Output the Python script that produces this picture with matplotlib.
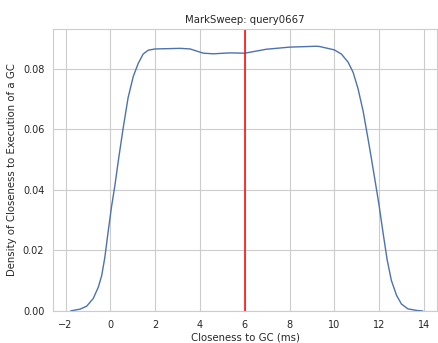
import matplotlib
matplotlib.use('Agg')
import matplotlib.pyplot as plt
import seaborn as sns

sns.set_style('whitegrid')

# density curve of closeness to GC, sampled along x
closeness_ms = [-1.78, -1.73, -1.36, -1.06, -0.77, -0.54, -0.39, -0.25, -0.10, 0.05,
                0.20, 0.35, 0.57, 0.79, 1.02, 1.24, 1.46, 1.69, 2.0, 2.58,
                3.12, 3.56, 4.15, 4.60, 5.34, 6.0, 6.37, 6.96, 8.0, 9.2,
                9.35, 10.0, 10.32, 10.62, 10.84, 11.06, 11.29, 11.51, 11.66, 11.85,
                12.0, 12.18, 12.36, 12.55, 12.78, 13.0, 13.29, 13.67, 13.95]
density = [0.0, 0.0001, 0.0006, 0.0016, 0.0041, 0.0079, 0.0117, 0.0177, 0.0263, 0.0345,
           0.0415, 0.0495, 0.0605, 0.0705, 0.0775, 0.0818, 0.0849, 0.0862, 0.0866, 0.0867,
           0.0868, 0.0866, 0.0852, 0.0850, 0.0853, 0.0852, 0.0857, 0.0865, 0.0872, 0.0875,
           0.0874, 0.0863, 0.0849, 0.0822, 0.0789, 0.0735, 0.0660, 0.0568, 0.0503, 0.0418,
           0.0350, 0.0258, 0.0170, 0.0101, 0.0052, 0.0023, 0.0007, 0.0002, 0.0]
gc_time = 6.0

fig = plt.figure(figsize=(4.39, 3.43), dpi=100)
ax = fig.add_axes([0.1215, 0.0933, 0.8735, 0.8222])

ax.plot(closeness_ms, density, color='#4c72b0', lw=1.0, solid_joinstyle='round')
ax.axvline(gc_time, color='red', lw=1.1)

ax.set_xlim(-2.55, 14.58)
ax.set_ylim(0, 0.0932)
ax.set_xticks(range(-2, 15, 2))
ax.set_yticks([0.0, 0.02, 0.04, 0.06, 0.08])
ax.tick_params(labelsize=7, pad=3, colors='#262626')

ax.set_title('MarkSweep: query0667', fontsize=7.3, color='#262626', pad=4)
ax.set_xlabel('Closeness to GC (ms)', fontsize=7.3, color='#262626', labelpad=2)
ax.set_ylabel('Density of Closeness to Execution of a GC', fontsize=7.3, color='#262626', labelpad=4)

fig.savefig('out.png', dpi=100)
